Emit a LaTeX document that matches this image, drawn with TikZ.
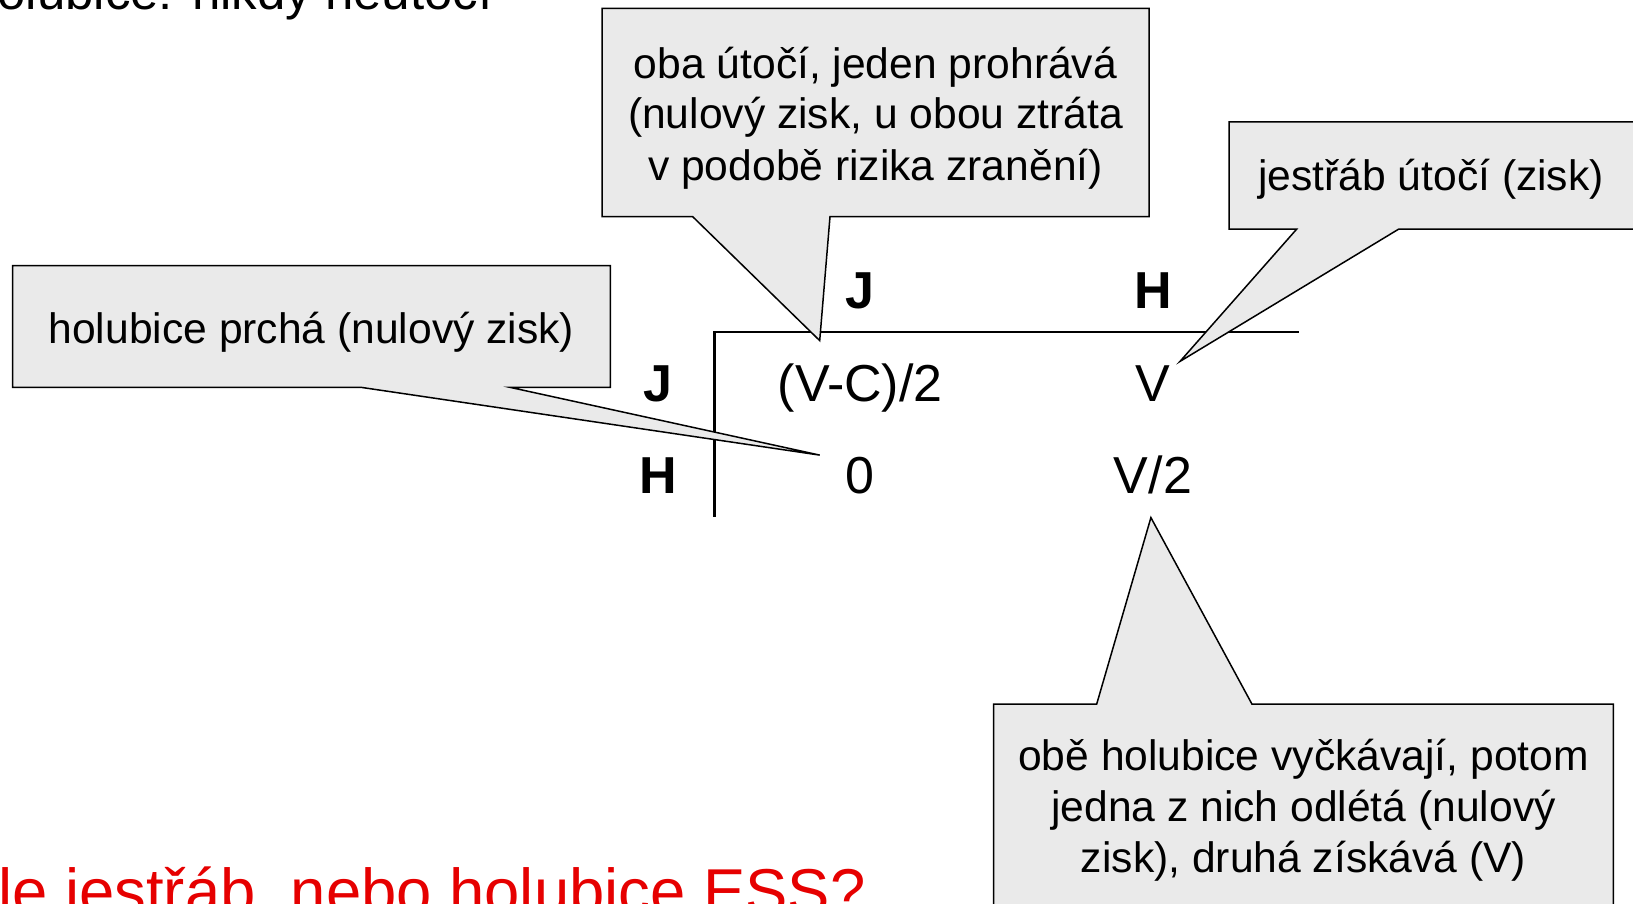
\documentclass[tikz,border=0pt]{standalone}
\usepackage{fontspec}
\setmainfont{Liberation Sans}
\definecolor{callfill}{RGB}{234,234,234}
\definecolor{qred}{RGB}{230,0,0}
\begin{document}
\begin{tikzpicture}[x=0.5pt,y=-0.5pt,
  callout/.style={draw=black,fill=callfill,line width=0.75pt,line join=miter},
  ctext/.style={align=center,inner sep=0pt,font=\fontsize{21.3}{25.5}\selectfont},
  tabline/.style={line width=1.2pt},
  lab/.style={anchor=base,inner sep=0pt,font=\fontsize{26}{30}\selectfont\bfseries},
  val/.style={anchor=base,inner sep=0pt,font=\fontsize{26}{30}\selectfont}]
\useasboundingbox (0,0) rectangle (1633,904);
\clip (0,0) rectangle (1633,904);
\fill[white] (0,0) rectangle (1633,904);

% header text cut off at top
\node[anchor=base west,inner sep=0pt,font=\fontsize{25.5}{30}\selectfont] (head) at (-3,10) {olubice: nikdy neútočí};

% table
\coordinate (tl) at (714.5,332.2);
\coordinate (tr) at (1298.8,332.2);
\coordinate (bl) at (714.5,516.6);
\draw[tabline] (tr) -- (tl) -- (bl);
\node[lab] (cJ) at (860.3,308.3) {J};
\node[lab] (cH) at (1153,308.3) {H};
\node[lab] (rJ) at (658.2,401) {J};
\node[lab] (rH) at (658.2,493.7) {H};
\node[val] (vJJ) at (860.3,401) {(V-C)/2};
\node[val] (vJH) at (1153,401) {V};
\node[val] (vHJ) at (860.3,493.7) {0};
\node[val] (vHH) at (1153,493.7) {V/2};

% top callout
\draw[callout] (602,8.3) -- (1149,8.3) -- (1149,216.6) -- (830,216.6) -- (819.7,340.6) -- (692.6,216.6) -- (602,216.6) -- cycle;
\node[ctext,anchor=base] (ttop) at (875.5,180) {oba útočí, jeden prohrává\\(nulový zisk, u obou ztráta\\v podobě rizika zranění)};

% right callout
\draw[callout] (1229,121.9) -- (1645,121.9) -- (1645,229.1) -- (1398.7,229.1) -- (1180,361.4) -- (1296.7,229.1) -- (1229,229.1) -- cycle;
\node[ctext,anchor=base] (tright) at (1431,191) {jestřáb útočí (zisk)};

% left callout
\draw[callout] (12.5,265.6) -- (610.3,265.6) -- (610.3,387.4) -- (510.3,387.4) -- (819.7,455.1) -- (361.4,387.4) -- (12.5,387.4) -- cycle;
\node[ctext,anchor=base] (tleft) at (311.4,343) {holubice prchá (nulový zisk)};

% bottom callout
\draw[callout] (993.6,704) -- (1096.7,704) -- (1150.9,517.6) -- (1251.9,704) -- (1613.3,704) -- (1613.3,915) -- (993.6,915) -- cycle;
\node[ctext,anchor=base] (tbot) at (1303.5,872) {obě holubice vyčkávají, potom\\jedna z nich odlétá (nulový\\zisk), druhá získává (V)};

% red question cut off at bottom-left
\node[anchor=base west,inner sep=0pt,text=qred,font=\fontsize{31.7}{36}\selectfont] (q) at (-2,913) {le jestřáb, nebo holubice ESS?};
\end{tikzpicture}
\end{document}
